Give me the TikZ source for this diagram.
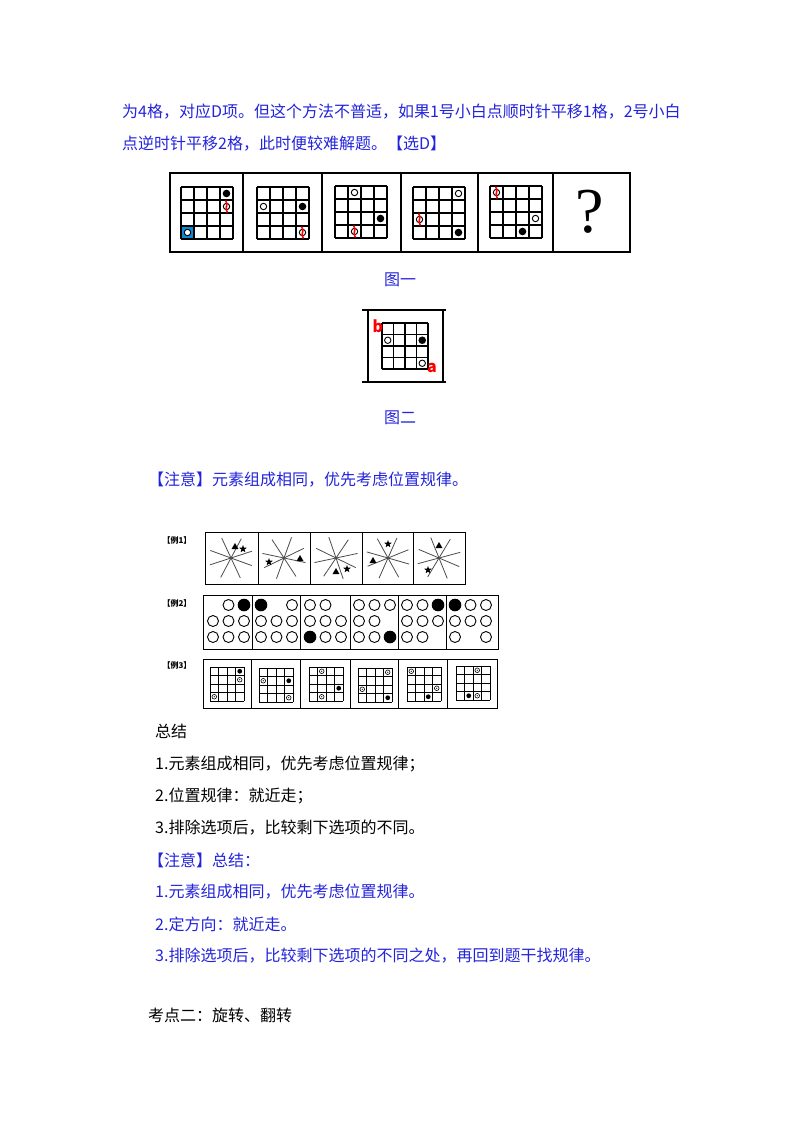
\documentclass[tikz,border=0pt]{standalone}
\usepackage{fontspec}
\setmainfont{Noto Sans CJK SC}
\newfontfamily\qfont{Liberation Serif}
\usetikzlibrary{shapes.geometric}
\definecolor{tb}{RGB}{35,35,220}
\begin{document}
\begin{tikzpicture}[x=1pt,y=-1pt,
  txt/.style={anchor=west,inner sep=0pt,font=\fontsize{16}{18}\selectfont},
  btxt/.style={txt,text=tb},
  figcap/.style={inner sep=0pt,font=\fontsize{16}{18}\selectfont,text=tb},
  lab/.style={inner sep=0pt,font=\fontsize{8}{9}\selectfont\bfseries},
  box/.style={draw,line width=1.2pt},
  wdot/.style={draw,fill=white,line width=0.9pt}]
\useasboundingbox (0,0) rectangle (800,1132);
% ---- texts
\node[btxt] (t1) at (122,112) {为4格，对应D项。但这个方法不普适，如果1号小白点顺时针平移1格，2号小白};
\node[btxt] (t2) at (122,144) {点逆时针平移2格，此时便较难解题。【选D】};
\node[figcap] (c1) at (400,280) {图一};
\node[figcap] (c2) at (400,418) {图二};
\node[btxt] (n1) at (148,480) {【注意】元素组成相同，优先考虑位置规律。};
\node[txt] (s0) at (155,731) {总结};
\node[txt] (s1) at (155,764) {1.元素组成相同，优先考虑位置规律；};
\node[txt] (s2) at (155,796) {2.位置规律：就近走；};
\node[txt] (s3) at (155,828) {3.排除选项后，比较剩下选项的不同。};
\node[btxt] (z0) at (148,860) {【注意】总结：};
\node[btxt] (z1) at (155,892) {1.元素组成相同，优先考虑位置规律。};
\node[btxt] (z2) at (155,924) {2.定方向：就近走。};
\node[btxt] (z3) at (155,956) {3.排除选项后，比较剩下选项的不同之处，再回到题干找规律。};
\node[txt] (k2) at (148,1015) {考点二：旋转、翻转};
% ---- figure 1
\draw[box] (170,173) rectangle (630,252);
\foreach \x in {243,322,401,478,553} \draw[line width=1.2pt] (\x,173) -- (\x,252);
\def\cs{13}
\newcommand{\mkgrid}[2]{%
  \foreach \i in {0,...,4} {\draw[line width=1.1pt] (#1+\i*\cs,#2) -- (#1+\i*\cs,#2+4*\cs);
    \draw[line width=1.1pt] (#1,#2+\i*\cs) -- (#1+4*\cs,#2+\i*\cs);}}
\newcommand{\wdt}[4]{\draw[wdot] (#1+#3*\cs+\cs/2,#2+#4*\cs+\cs/2) circle (3.2);}
\newcommand{\bdt}[4]{\fill (#1+#3*\cs+\cs/2,#2+#4*\cs+\cs/2) circle (3.8);}
\newcommand{\rdt}[4]{\draw[wdot] (#1+#3*\cs+\cs/2,#2+#4*\cs+\cs/2) circle (3.2);
  \draw[red,line width=1.6pt] (#1+#3*\cs+\cs/2-1,#2+#4*\cs+\cs/2-6) .. controls (#1+#3*\cs+\cs/2+3,#2+#4*\cs+\cs/2-1) and (#1+#3*\cs+\cs/2-3,#2+#4*\cs+\cs/2+1) .. (#1+#3*\cs+\cs/2+1,#2+#4*\cs+\cs/2+6);}
\mkgrid{181}{187}
\fill[cyan!70!blue] (181+1,187+3*\cs+1) rectangle (181+\cs-1,187+4*\cs-1);
\bdt{181}{187}{3}{0}\rdt{181}{187}{3}{1}\wdt{181}{187}{0}{3}
\mkgrid{257}{187}
\wdt{257}{187}{0}{1}\bdt{257}{187}{3}{1}\rdt{257}{187}{3}{3}
\mkgrid{335}{186}
\wdt{335}{186}{1}{0}\bdt{335}{186}{3}{2}\rdt{335}{186}{1}{3}
\mkgrid{413}{187}
\wdt{413}{187}{3}{0}\rdt{413}{187}{0}{2}\bdt{413}{187}{3}{3}
\mkgrid{490}{186}
\rdt{490}{186}{0}{0}\wdt{490}{186}{3}{2}\bdt{490}{186}{2}{3}
\node[inner sep=0pt,font=\fontsize{64}{64}\qfont] (q) at (590,212) {?};
% ---- figure 2
\draw[line width=1.1pt] (362,310) -- (446,310) (362,382) -- (446,382) (368,310) -- (368,382) (443,310) -- (443,382);
\def\cs{11.5}
\mkgrid{382}{323}
\wdt{382}{323}{0}{1}\bdt{382}{323}{3}{1}\wdt{382}{323}{3}{3}
\node[red,inner sep=0pt,font=\fontsize{16}{16}\selectfont\bfseries] (lb) at (378,326) {b};
\node[red,inner sep=0pt,font=\fontsize{16}{16}\selectfont\bfseries] (la) at (432,368) {a};
% ---- example labels
\node[lab] (e1) at (177,540) {【例1】};
\node[lab] (e2) at (177,603) {【例2】};
\node[lab] (e3) at (177,665) {【例3】};
% ---- example 1
\draw[line width=1pt] (205,532) rectangle (465,584);
\foreach \x in {258,310,362,413} \draw[line width=1pt] (\x,532) -- (\x,584);
\newcommand{\mystar}[2]{\node[star,star points=5,star point ratio=2.4,fill,inner sep=0pt,minimum size=8pt] at (#1,#2) {};}
\newcommand{\mytri}[2]{\node[regular polygon,regular polygon sides=3,fill,inner sep=0pt,minimum size=8pt] at (#1,#2) {};}
\foreach \cx/\a/\tx/\ty/\sx/\sy in {231/0/4/-11/12/-9, 284/8/16/1/-15/4, 336/-6/0/14/11/11, 388/4/-15/3/0/-14, 439/-3/0/-12/-11/12}{
  \foreach \ang in {18,62,115,160} \draw[gray!60!black,line width=0.8pt] ({\cx+22*cos(\ang+\a)},{558-22*sin(\ang+\a)}) -- ({\cx-22*cos(\ang+\a)},{558+22*sin(\ang+\a)});
  \mytri{\cx+\tx}{558+\ty}
  \mystar{\cx+\sx}{558+\sy}}
% ---- example 2
\draw[line width=1pt] (203,595) rectangle (498,649);
\foreach \x in {252,300,350,398,446} \draw[line width=1pt] (\x,595) -- (\x,649);
\foreach \px/\pat in {205/{_,o,x,o,o,o,o,o,o}, 253/{x,_,o,o,o,o,o,o,o}, 302/{o,o,_,o,o,o,x,o,o}, 351/{o,o,o,o,o,_,o,o,x}, 399/{o,o,x,o,o,o,o,o,_}, 447/{x,o,o,o,o,o,o,_,o}}{
  \foreach \k [count=\n from 0] in \pat {
    \pgfmathsetmacro\cc{mod(\n,3)}\pgfmathsetmacro\rr{int(\n/3)}
    \if\k o \draw[line width=0.9pt] (\px+8+\cc*15.5,605+\rr*16) circle (5.5);\fi
    \if\k x \fill (\px+8+\cc*15.5,605+\rr*16) circle (6.3);\fi}}
% ---- example 3
\draw[line width=1pt] (203,659) rectangle (497,708);
\foreach \x in {251,300,350,398,447} \draw[line width=1pt] (\x,659) -- (\x,708);
\def\cs{8.5}
\renewcommand{\wdt}[4]{\draw[line width=0.6pt] (#1+#3*\cs+\cs/2,#2+#4*\cs+\cs/2) circle (2.3); \fill (#1+#3*\cs+\cs/2,#2+#4*\cs+\cs/2) circle (0.7);}
\renewcommand{\bdt}[4]{\fill (#1+#3*\cs+\cs/2,#2+#4*\cs+\cs/2) circle (2.4);}
\renewcommand{\mkgrid}[2]{%
  \foreach \i in {0,...,4} {\draw[line width=0.8pt] (#1+\i*\cs,#2) -- (#1+\i*\cs,#2+4*\cs);
    \draw[line width=0.8pt] (#1,#2+\i*\cs) -- (#1+4*\cs,#2+\i*\cs);}}
\mkgrid{210}{667}\bdt{210}{667}{3}{0}\wdt{210}{667}{3}{1}\wdt{210}{667}{0}{3}
\mkgrid{259}{668}\wdt{259}{668}{0}{1}\bdt{259}{668}{3}{1}\wdt{259}{668}{3}{3}
\mkgrid{309}{667}\wdt{309}{667}{1}{0}\bdt{309}{667}{3}{2}\wdt{309}{667}{1}{3}
\mkgrid{358}{668}\wdt{358}{668}{3}{0}\wdt{358}{668}{0}{2}\bdt{358}{668}{3}{3}
\mkgrid{407}{667}\wdt{407}{667}{0}{0}\wdt{407}{667}{3}{2}\bdt{407}{667}{2}{3}
\mkgrid{456}{666}\wdt{456}{666}{2}{0}\bdt{456}{666}{1}{3}\wdt{456}{666}{2}{3}
\end{tikzpicture}
\end{document}
